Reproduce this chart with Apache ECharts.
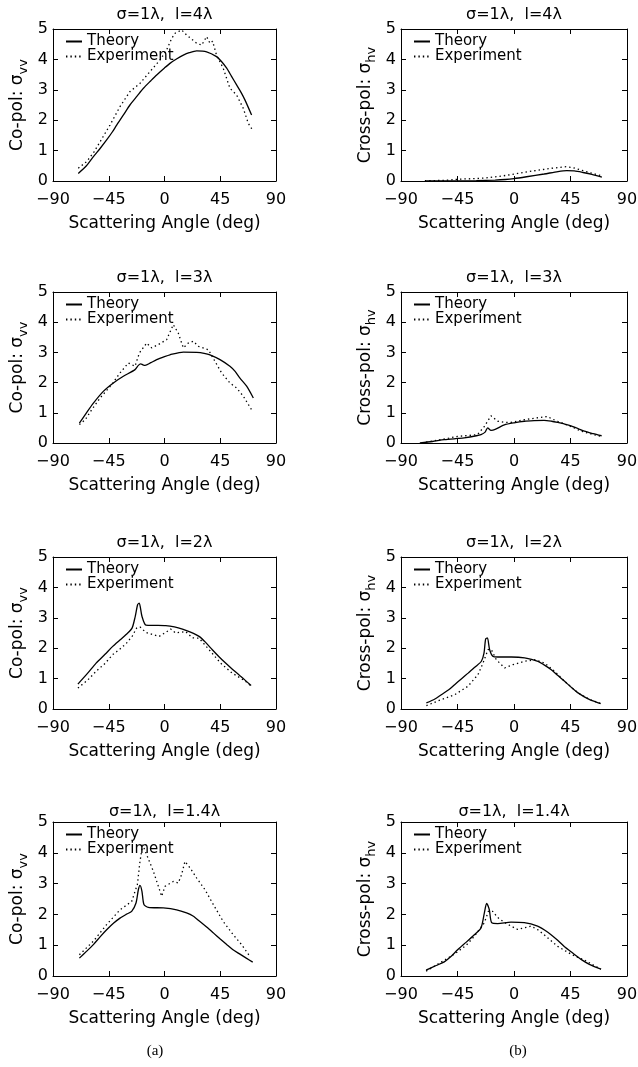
<!DOCTYPE html>
<html><head><meta charset="utf-8">
<script src="https://cdn.jsdelivr.net/npm/echarts@6/dist/echarts.min.js"></script>
<style>html,body{margin:0;padding:0;background:#fff}#c{width:638px;height:1067px}</style>
</head><body><div id="c"></div>
<script>
// ---- tick labels ----
const xTickValues = [-90, -45, 0, 45, 90];
const yTickValues = [0, 1, 2, 3, 4, 5];

// ---- panel titles / labels ----
const panelTitles = ['σ=1λ,  l=4λ', 'σ=1λ,  l=4λ', 'σ=1λ,  l=3λ', 'σ=1λ,  l=3λ', 'σ=1λ,  l=2λ', 'σ=1λ,  l=2λ', 'σ=1λ,  l=1.4λ', 'σ=1λ,  l=1.4λ'];
const xAxisName = 'Scattering Angle (deg)';
const coPolName = '{m|Co-pol: σ}{s|vv}';
const crossPolName = '{m|Cross-pol: σ}{s|hv}';
const seriesNames = ['Theory', 'Experiment'];
const columnLabels = ['(a)', '(b)'];

// ---- data: [angle (deg), sigma] ----
const co4Theory = [[-69.6,0.25],[-63,0.5],[-57.4,0.8],[-52,1.07],[-46.7,1.35],[-42,1.62],[-38.6,1.84],[-33,2.18],[-27.9,2.5],[-22,2.8],[-17,3.05],[-11,3.3],[-6.3,3.49],[0,3.72],[4.4,3.87],[10,4.02],[15.2,4.14],[20,4.22],[26,4.28],[34,4.25],[42,4.09],[46,3.93],[50.2,3.71],[54,3.45],[58.2,3.16],[62,2.9],[65,2.66],[70.3,2.17]];
const co4Exp = [[-69.6,0.42],[-62.8,0.64],[-57,0.95],[-52,1.29],[-44,1.84],[-35.9,2.45],[-27.9,2.94],[-19.8,3.21],[-11.7,3.6],[-3.6,3.98],[1.7,4.31],[5.8,4.69],[8.5,4.86],[13.8,4.97],[17.9,4.8],[26,4.53],[30,4.47],[34,4.75],[36.7,4.53],[38.8,4.6],[42,4.14],[47.4,3.71],[52.8,3.05],[58.2,2.83],[63.6,2.39],[67.6,1.9],[71,1.68]];
const cx4Theory = [[-70,0.0],[-50,0.0],[-30,0.01],[-15,0.03],[-7,0.05],[0,0.08],[10,0.14],[24,0.23],[35,0.31],[42,0.34],[48,0.33],[55,0.28],[62,0.22],[70,0.13]];
const cx4Exp = [[-71,0.01],[-55,0.02],[-44.5,0.06],[-30,0.08],[-23,0.1],[-10,0.16],[3,0.25],[15,0.33],[30,0.42],[41.5,0.47],[47,0.44],[53.5,0.36],[60,0.28],[69,0.18]];
const co3Theory = [[-68.7,0.66],[-63,1.0],[-57.4,1.32],[-49.4,1.71],[-41.3,1.99],[-33.2,2.21],[-23.8,2.43],[-21.1,2.57],[-19.2,2.62],[-17.5,2.59],[-15.7,2.57],[-11,2.66],[-6.3,2.76],[0,2.86],[4.4,2.92],[15.2,3.01],[26,3.0],[32,2.97],[36.7,2.92],[44.8,2.76],[52.8,2.54],[57,2.37],[60.9,2.15],[66.3,1.88],[71.7,1.49]];
const co3Exp = [[-68.7,0.61],[-64,0.77],[-58.8,1.1],[-52,1.49],[-42.7,1.93],[-35.9,2.32],[-29.2,2.65],[-23.8,2.54],[-20.3,2.98],[-14.4,3.31],[-10.4,3.15],[-5,3.26],[1.7,3.42],[7.1,3.92],[11.1,3.64],[15.2,3.15],[19.2,3.31],[23.3,3.37],[27.3,3.2],[35.4,3.09],[40.8,2.7],[46.1,2.32],[52.8,1.99],[58.2,1.82],[63.6,1.55],[70.3,1.1]];
const cx3Theory = [[-75,0],[-65,0.05],[-55.5,0.11],[-45,0.15],[-39.6,0.17],[-30,0.24],[-26.3,0.28],[-23,0.36],[-21,0.5],[-18.3,0.42],[-15,0.45],[-7.7,0.6],[0,0.67],[8.2,0.72],[16,0.74],[24,0.75],[30,0.72],[34.8,0.68],[40,0.63],[45.4,0.57],[51,0.48],[56,0.39],[63,0.31],[69.8,0.24]];
const cx3Exp = [[-70,0.03],[-60,0.1],[-52,0.16],[-44.9,0.22],[-36,0.25],[-29,0.28],[-23.6,0.55],[-18.3,0.9],[-13,0.72],[-7,0.68],[-2.4,0.68],[8.2,0.77],[18,0.83],[26.8,0.88],[30,0.8],[34.8,0.72],[41,0.62],[48,0.5],[53,0.4],[58.7,0.33],[69,0.22]];
const co2Theory = [[-69.9,0.82],[-62,1.18],[-55.2,1.51],[-48,1.8],[-41.8,2.06],[-36,2.27],[-31,2.45],[-26.2,2.66],[-23.6,3.05],[-21.7,3.43],[-20.4,3.48],[-18.2,3.05],[-15,2.76],[-8,2.75],[1,2.74],[8,2.7],[14.5,2.63],[21,2.53],[27.9,2.39],[33,2.2],[38.6,1.95],[44,1.72],[49.3,1.51],[55,1.3],[60,1.13],[65,0.95],[69.9,0.77]];
const co2Exp = [[-69.9,0.69],[-62,0.95],[-55.2,1.24],[-48,1.5],[-41.8,1.79],[-36,1.97],[-31,2.15],[-26,2.4],[-22.5,2.66],[-19.8,2.7],[-15,2.52],[-9.6,2.45],[-4.3,2.39],[1,2.52],[5,2.63],[9,2.5],[17,2.55],[22.5,2.34],[27.9,2.33],[36,1.95],[45.3,1.51],[54.6,1.18],[60,1.05],[65.4,0.91],[70,0.75]];
const cx2Theory = [[-69.8,0.2],[-63,0.33],[-57.9,0.47],[-52,0.63],[-47.3,0.8],[-42,0.99],[-36.6,1.18],[-31,1.38],[-26,1.57],[-23.9,1.84],[-22.6,2.3],[-21.2,2.34],[-19.4,1.95],[-16.7,1.73],[-12.8,1.71],[-2.1,1.71],[8.5,1.68],[19.1,1.57],[24,1.45],[29.7,1.29],[35,1.1],[40.3,0.91],[46,0.7],[51,0.53],[56,0.4],[60.3,0.31],[69,0.18]];
const cx2Exp = [[-69.8,0.11],[-57.9,0.31],[-47.3,0.47],[-36.6,0.75],[-28.7,1.13],[-24.7,1.51],[-20.7,1.95],[-18,1.95],[-14.1,1.62],[-7.4,1.35],[-0.8,1.46],[8.5,1.57],[16.5,1.62],[24.4,1.51],[32.4,1.24],[40.3,0.91],[51,0.53],[60.3,0.31],[69,0.18]];
const co14Theory = [[-68.7,0.58],[-63,0.8],[-57.4,1.02],[-52,1.27],[-46.7,1.5],[-41,1.72],[-35.9,1.88],[-31,2.0],[-26.5,2.1],[-23,2.37],[-21.1,2.8],[-19.8,2.94],[-18.2,2.75],[-16.6,2.32],[-13.1,2.23],[-1,2.21],[9.8,2.15],[17.8,2.05],[23,1.95],[28.6,1.77],[34,1.59],[39.4,1.4],[45,1.2],[50.2,1.02],[55,0.86],[60.9,0.71],[66,0.58],[71.2,0.45]];
const co14Exp = [[-68.7,0.69],[-57.4,1.13],[-46.7,1.67],[-35.9,2.15],[-26.5,2.42],[-21.9,2.97],[-19.8,3.72],[-17.6,4.26],[-14.4,3.94],[-9,3.4],[-2.3,2.59],[0.4,2.91],[7.1,3.07],[11.1,3.02],[13.8,3.29],[16.5,3.72],[20.6,3.51],[26,3.18],[32.7,2.8],[39.4,2.32],[47.4,1.77],[55.5,1.34],[62.2,1.02],[68.9,0.64]];
const cx14Theory = [[-70,0.19],[-62,0.34],[-55.5,0.46],[-50,0.64],[-44.9,0.85],[-38,1.1],[-31.6,1.34],[-26.3,1.56],[-23.6,2.05],[-21.8,2.36],[-19.7,2.16],[-17.8,1.73],[-13,1.7],[-2.4,1.75],[8.2,1.73],[18.8,1.62],[24,1.5],[29.5,1.34],[35,1.15],[40,0.96],[47,0.74],[53.4,0.54],[60,0.38],[69.3,0.22]];
const cx14Exp = [[-70,0.16],[-60,0.4],[-47.5,0.71],[-38,1.0],[-31.6,1.29],[-23.6,1.73],[-20.4,2.1],[-17,2.1],[-13,1.9],[-8,1.75],[-2.4,1.62],[3,1.51],[13.5,1.62],[19,1.5],[24,1.34],[34.8,0.96],[45.4,0.71],[50,0.62],[56,0.52],[62,0.38],[69.3,0.22]];

const theorySets = [co4Theory, cx4Theory, co3Theory, cx3Theory, co2Theory, cx2Theory, co14Theory, cx14Theory];
const expSets = [co4Exp, cx4Exp, co3Exp, cx3Exp, co2Exp, cx2Exp, co14Exp, cx14Exp];

// ---- layout ----
const FONT = 'DejaVu Sans';
const colLeft = [53, 401], colWidth = [223, 226];
const rowTop = [29, 292, 557, 822], rowHeight = [152, 151, 152, 154];
const titleY = [15, 278, 543, 812];

const lineCol = '#000';
const option = {
  animation: false,
  backgroundColor: '#fff',
  grid: [], xAxis: [], yAxis: [], series: [], legend: [], graphic: []
};

const minusFmt = v => String(v).replace('-', '\u2212');

for (let i = 0; i < 8; i++) {
  const r = Math.floor(i / 2), c = i % 2;
  option.grid.push({left: colLeft[c], top: rowTop[r], width: colWidth[c], height: rowHeight[r], show: false, outerBoundsMode: 'none'});
  const axLine = {show: true, onZero: false, lineStyle: {color: lineCol, width: 1}};
  const tick = {show: true, inside: true, length: 5, lineStyle: {color: lineCol, width: 1}};
  const xMin = xTickValues[0], xMax = xTickValues[xTickValues.length - 1];
  const yMin = yTickValues[0], yMax = yTickValues[yTickValues.length - 1];
  option.xAxis.push({
    gridIndex: i, type: 'value', position: 'bottom', min: xMin, max: xMax, interval: xTickValues[1] - xTickValues[0],
    axisLine: axLine, axisTick: tick, splitLine: {show: false},
    axisLabel: {show: true, margin: 11, color: lineCol, fontFamily: FONT, fontSize: 16, formatter: minusFmt, showMinLabel: true, showMaxLabel: true, hideOverlap: false},
    name: xAxisName, nameLocation: 'middle', nameGap: 34,
    nameTextStyle: {color: lineCol, fontFamily: FONT, fontSize: 17}
  });
  option.xAxis.push({
    gridIndex: i, type: 'value', position: 'top', min: xMin, max: xMax, interval: xTickValues[1] - xTickValues[0],
    axisLine: axLine, axisTick: tick, splitLine: {show: false}, axisLabel: {show: false}
  });
  option.yAxis.push({
    gridIndex: i, type: 'value', position: 'left', min: yMin, max: yMax, interval: yTickValues[1] - yTickValues[0],
    axisLine: axLine, axisTick: tick, splitLine: {show: false},
    axisLabel: {show: true, margin: 5, color: lineCol, fontFamily: FONT, fontSize: 16, showMinLabel: true, showMaxLabel: true, hideOverlap: false},
    name: c === 0 ? coPolName : crossPolName, nameLocation: 'middle', nameGap: 27, nameRotate: 90,
    nameTextStyle: {
      color: lineCol, fontFamily: FONT, fontSize: 17,
      rich: {
        m: {fontFamily: FONT, fontSize: 17, lineHeight: 17, verticalAlign: 'top', color: lineCol},
        s: {fontFamily: FONT, fontSize: 13, lineHeight: 13, padding: [8, 0, 0, 0], verticalAlign: 'top', color: lineCol}
      }
    }
  });
  option.yAxis.push({
    gridIndex: i, type: 'value', position: 'right', min: yMin, max: yMax, interval: yTickValues[1] - yTickValues[0],
    axisLine: axLine, axisTick: tick, splitLine: {show: false}, axisLabel: {show: false}
  });
  option.series.push({
    name: seriesNames[0], type: 'line', xAxisIndex: 2 * i, yAxisIndex: 2 * i,
    data: theorySets[i], showSymbol: false, symbol: 'none', smooth: 0.25,
    lineStyle: {color: lineCol, width: 1.3, type: 'solid'}, itemStyle: {color: lineCol, opacity: 0}
  });
  option.series.push({
    name: seriesNames[1], type: 'line', xAxisIndex: 2 * i, yAxisIndex: 2 * i,
    data: expSets[i], showSymbol: false, symbol: 'none',
    lineStyle: {color: lineCol, width: 1.3, type: [1.4, 3]}, itemStyle: {color: lineCol, opacity: 0}
  });
  option.legend.push({
    left: colLeft[c] + 12, top: rowTop[r] + 5, orient: 'vertical', padding: 0,
    itemWidth: 16, itemHeight: 14, itemGap: 0, selectedMode: false,
    data: seriesNames,
    itemStyle: {opacity: 0},
    textStyle: {color: lineCol, fontFamily: FONT, fontSize: 15, lineHeight: 14, padding: [0, 0, 0, 0]}
  });
  option.graphic.push({
    type: 'text', x: colLeft[c] + colWidth[c] / 2, y: titleY[r],
    style: {text: panelTitles[i], fill: lineCol, font: '16px "' + FONT + '"', textAlign: 'center', textVerticalAlign: 'middle'}
  });
}
columnLabels.forEach((t, c) => {
  option.graphic.push({
    type: 'text', x: c === 0 ? 155 : 518, y: 1051,
    style: {text: t, fill: lineCol, font: '15px "Liberation Serif"', textAlign: 'center', textVerticalAlign: 'middle'}
  });
});

const chart = echarts.init(document.getElementById('c'), null, {renderer: 'canvas'});
chart.setOption(option);
</script>
</body></html>
